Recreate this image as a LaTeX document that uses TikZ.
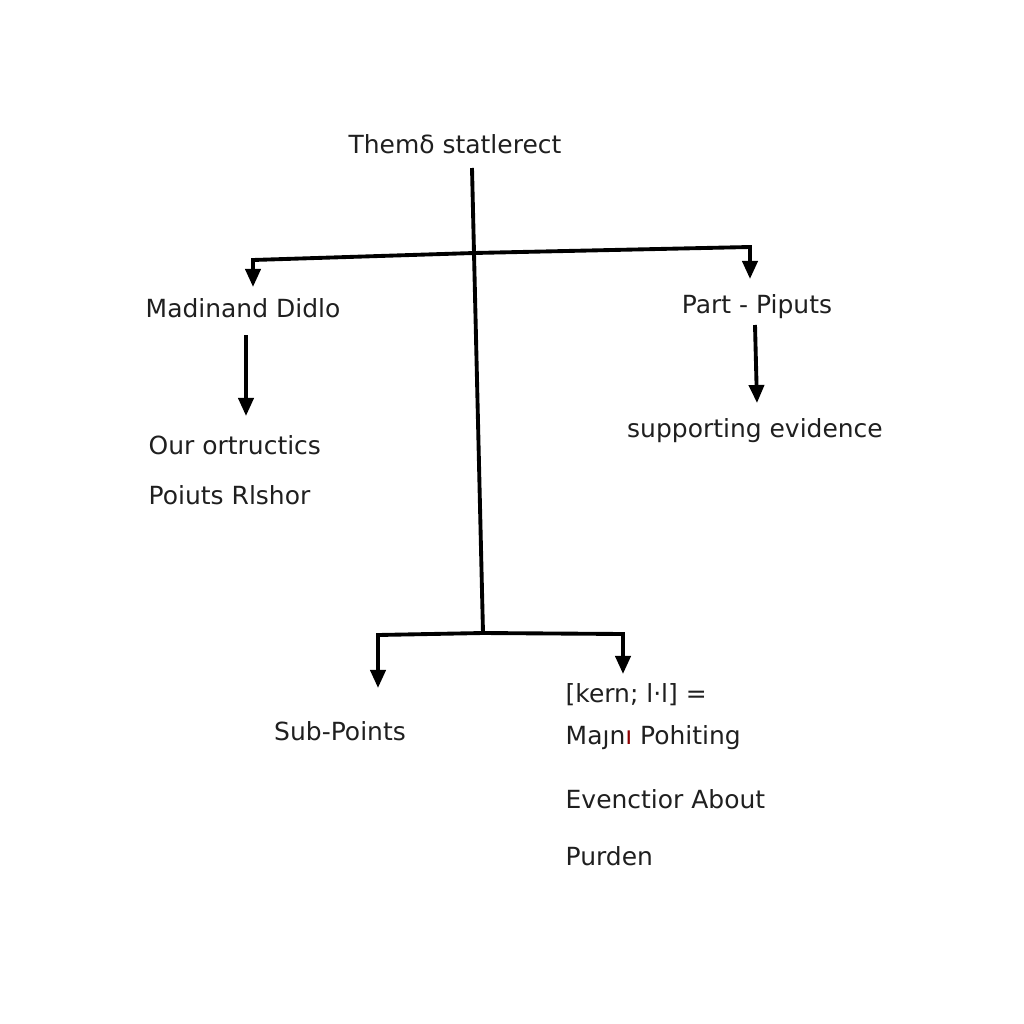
\documentclass[tikz,border=0pt]{standalone}
\usepackage{fontspec}
\setmainfont{DejaVu Sans}
\usetikzlibrary{arrows.meta}
\tikzset{
  lbl/.style={inner sep=0pt, anchor=base, text=black!88, font=\fontsize{7.1}{9}\selectfont},
  lblw/.style={lbl, anchor=base west},
  bar/.style={line width=1.1pt},
  arr/.style={bar, -{Triangle[length=1.8mm,width=1.5mm]}},
}

\begin{document}
\begin{tikzpicture}[x=0.01cm, y=-0.01cm]
\useasboundingbox (0,0) rectangle (1024,1024);

% texts
\node[lbl] (theme) at (455,153) {Themδ statlerect};
\node[lbl] (mad) at (243,317) {Madinand Didlo};
\node[lblw] (our) at (148,454) {Our ortructics};
\node[lblw] (poi) at (148,504) {Poiuts Rlshor};
\node[lbl] (part) at (757,313) {Part - Piputs};
\node[lbl] (supp) at (755,437) {supporting evidence};
\node[lbl] (sub) at (340,740) {Sub-Points};
\node[lblw] (kern) at (565,702) {[kern; l·l] =};
\node[lblw] (main) at (565,744) {Maȷn{\color{red!55!black}ı} Pohiting};
\node[lblw] (even) at (565,808) {Evenctior About};
\node[lblw] (purd) at (565,865) {Purden};

% trunk and bars
\coordinate (T0) at (472,168);
\coordinate (T1) at (474,253);
\coordinate (T2) at (483,633);
\coordinate (L0) at (253,260);
\coordinate (L1) at (253,287);
\coordinate (R0) at (750,247);
\coordinate (R1) at (750,279);
\coordinate (BL0) at (378,635);
\coordinate (BL1) at (378,688);
\coordinate (BR0) at (623,634);
\coordinate (BR1) at (623,674);

\draw[bar] (T0) -- (T1) -- (T2);
\draw[arr] (T1) -- (L0) -- (L1);
\draw[arr] (T1) -- (R0) -- (R1);
\draw[arr] (T2) -- (BL0) -- (BL1);
\draw[arr] (T2) -- (BR0) -- (BR1);

% arrows under the side labels
\coordinate (m1) at (246,335);
\coordinate (m2) at (246,416);
\coordinate (p1) at (755,325);
\coordinate (p2) at (757,403);
\draw[arr] (m1) -- (m2);
\draw[arr] (p1) -- (p2);

\end{tikzpicture}
\end{document}
